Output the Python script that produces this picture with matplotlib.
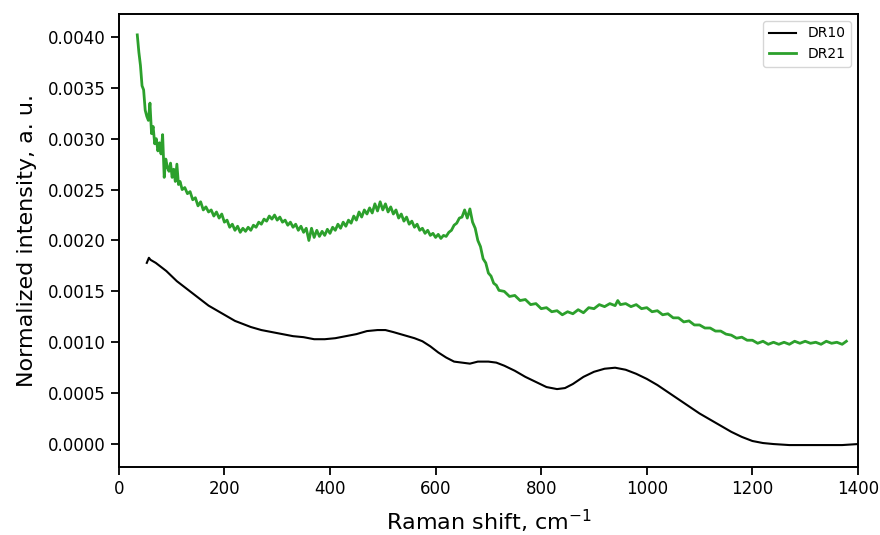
import matplotlib
matplotlib.use("Agg")
import matplotlib.pyplot as plt

# DR21 (green), noise kept as typed values
dr21_x = [35, 38, 41, 44, 47, 50, 53, 56, 59, 62, 65, 68, 71, 74, 77, 80, 83, 86, 89, 92,
          95, 98, 101, 104, 107, 110, 113, 116, 120, 125, 130, 135, 140, 145, 150, 155,
          160, 165, 170, 175, 180, 185, 190, 195, 200, 205, 210, 215, 220, 225, 230, 235,
          240, 245, 250, 255, 260, 265, 270, 275, 280, 285, 290, 295, 300, 305, 310, 315,
          320, 325, 330, 335, 340, 345, 350, 355, 360, 365, 370, 375, 380, 385, 390, 395,
          400, 405, 410, 415, 420, 425, 430, 435, 440, 445, 450, 455, 460, 465, 470, 475,
          480, 485, 490, 495, 500, 505, 510, 515, 520, 525, 530, 535, 540, 545, 550, 555,
          560, 565, 570, 575, 580, 585, 590, 595, 600, 605, 610, 615, 620, 625, 630, 635,
          640, 645, 650, 655, 660, 665, 670, 675, 680, 685, 690, 695, 700, 705, 710, 715,
          720, 730, 740, 750, 760, 770, 780, 790, 800, 810, 820, 830, 840, 850, 860, 870,
          880, 890, 900, 910, 920, 930, 940, 945, 950, 960, 970, 980, 990, 1000, 1010,
          1020, 1030, 1040, 1050, 1060, 1070, 1080, 1090, 1100, 1110, 1120, 1130, 1140,
          1150, 1160, 1170, 1180, 1190, 1200, 1210, 1220, 1230, 1240, 1250, 1260, 1270,
          1280, 1290, 1300, 1310, 1320, 1330, 1340, 1350, 1360, 1370, 1378]
dr21_y = [0.00402, 0.00385, 0.00372, 0.00352, 0.00348, 0.00328, 0.00322, 0.00318, 0.00335,
          0.00305, 0.00312, 0.00295, 0.00300, 0.00288, 0.00296, 0.00285, 0.00304, 0.00262,
          0.00280, 0.00272, 0.00268, 0.00276, 0.00262, 0.00270, 0.00258, 0.00275, 0.00255,
          0.00258, 0.00250, 0.00252, 0.00246, 0.00248, 0.00240, 0.00242, 0.00234, 0.00238,
          0.00230, 0.00233, 0.00228, 0.00230, 0.00224, 0.00228, 0.00222, 0.00226, 0.00218,
          0.00220, 0.00213, 0.00216, 0.00210, 0.00214, 0.00208, 0.00212, 0.00209, 0.00213,
          0.00210, 0.00215, 0.00213, 0.00218, 0.00216, 0.00221, 0.00219, 0.00224, 0.00221,
          0.00225, 0.00220, 0.00223, 0.00218, 0.00220, 0.00215, 0.00218, 0.00213, 0.00216,
          0.00210, 0.00214, 0.00208, 0.00212, 0.00200, 0.00212, 0.00203, 0.00210, 0.00204,
          0.00209, 0.00205, 0.00211, 0.00207, 0.00213, 0.00210, 0.00216, 0.00212, 0.00218,
          0.00214, 0.00220, 0.00217, 0.00224, 0.00220, 0.00228, 0.00223, 0.00230, 0.00226,
          0.00232, 0.00227, 0.00236, 0.00229, 0.00238, 0.00230, 0.00236, 0.00228, 0.00233,
          0.00226, 0.00230, 0.00222, 0.00226, 0.00219, 0.00223, 0.00216, 0.00219, 0.00213,
          0.00216, 0.00210, 0.00212, 0.00207, 0.00210, 0.00205, 0.00207, 0.00203, 0.00206,
          0.00202, 0.00205, 0.00204, 0.00208, 0.00210, 0.00215, 0.00217, 0.00222, 0.00223,
          0.00230, 0.00222, 0.00231, 0.00218, 0.00212, 0.00200, 0.00194, 0.00182, 0.00178,
          0.00168, 0.00165, 0.00158, 0.00156, 0.00151, 0.00150, 0.00145, 0.00146, 0.00141,
          0.00142, 0.00137, 0.00138, 0.00133, 0.00134, 0.00130, 0.00131, 0.00127, 0.00130,
          0.00128, 0.00132, 0.00129, 0.00134, 0.00133, 0.00137, 0.00135, 0.00138, 0.00136,
          0.00141, 0.00137, 0.00138, 0.00135, 0.00137, 0.00133, 0.00134, 0.00130, 0.00131,
          0.00127, 0.00128, 0.00124, 0.00124, 0.00120, 0.00121, 0.00117, 0.00117, 0.00114,
          0.00114, 0.00111, 0.00111, 0.00108, 0.00107, 0.00104, 0.00105, 0.00102, 0.00102,
          0.00099, 0.00101, 0.00098, 0.00100, 0.00098, 0.00100, 0.00098, 0.00101, 0.00099,
          0.00101, 0.00099, 0.00100, 0.00098, 0.00101, 0.00099, 0.00100, 0.00098, 0.00101]

# DR10 (black)
dr10_x = [53, 57, 60, 70, 80, 90, 100, 110, 120, 130, 140, 150, 160, 170, 180, 190, 200,
          210, 220, 235, 250, 270, 290, 310, 330, 350, 370, 390, 410, 430, 450, 470, 490,
          505, 520, 540, 560, 575, 590, 605, 620, 635, 650, 665, 680, 700, 715, 730, 750,
          770, 790, 810, 830, 845, 860, 880, 900, 920, 940, 960, 980, 1000, 1020, 1040,
          1060, 1080, 1100, 1120, 1140, 1160, 1180, 1200, 1220, 1240, 1270, 1300, 1340,
          1370, 1400]
dr10_y = [0.00178, 0.00183, 0.00181, 0.00178, 0.00174, 0.00170, 0.00165, 0.00160, 0.00156,
          0.00152, 0.00148, 0.00144, 0.00140, 0.00136, 0.00133, 0.00130, 0.00127, 0.00124,
          0.00121, 0.00118, 0.00115, 0.00112, 0.00110, 0.00108, 0.00106, 0.00105, 0.00103,
          0.00103, 0.00104, 0.00106, 0.00108, 0.00111, 0.00112, 0.00112, 0.00110, 0.00107,
          0.00104, 0.00101, 0.00096, 0.00090, 0.00085, 0.00081, 0.00080, 0.00079, 0.00081,
          0.00081, 0.00080, 0.00077, 0.00072, 0.00066, 0.00061, 0.00056, 0.00054, 0.00055,
          0.00059, 0.00066, 0.00071, 0.00074, 0.00075, 0.00073, 0.00069, 0.00064, 0.00058,
          0.00051, 0.00044, 0.00037, 0.00030, 0.00024, 0.00018, 0.00012, 0.00007, 0.00003,
          0.00001, 0.00000, -0.00001, -0.00001, -0.00001, -0.00001, 0.00000]


fig = plt.figure(figsize=(8.8, 5.35), dpi=100)
ax = fig.add_axes([0.135, 0.127, 0.840, 0.847])

ax.plot(dr10_x, dr10_y, color="black", linewidth=1.5, label="DR10")
ax.plot(dr21_x, dr21_y, color="#2ca02c", linewidth=2.0, label="DR21")

ax.set_xlim(0, 1400)
ax.set_ylim(-0.000226, 0.004226)
ax.set_yticks([0.0, 0.0005, 0.001, 0.0015, 0.002, 0.0025, 0.003, 0.0035, 0.004])
ax.set_yticklabels([f"{v:.4f}" for v in ax.get_yticks()])

ax.set_xlabel("Raman shift, cm$^{-1}$", fontsize=16, labelpad=7)
ax.set_ylabel("Normalized intensity, a. u.", fontsize=16, labelpad=8)

ax.tick_params(axis="both", labelsize=12, length=6, width=1.3)
for sp in ax.spines.values():
    sp.set_linewidth(1.4)

ax.legend(loc="upper right", fontsize=10)

plt.savefig("out.png", dpi=100)
plt.close()
